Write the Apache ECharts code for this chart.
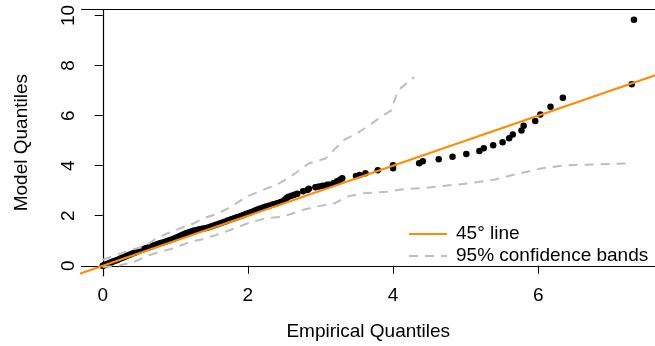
<!DOCTYPE html>
<html>
<head>
<meta charset="utf-8">
<script src="https://cdn.jsdelivr.net/npm/echarts@6/dist/echarts.min.js"></script>
<style>
html, body { margin: 0; padding: 0; background: #fff; }
#chart { width: 655px; height: 346px; }
</style>
</head>
<body>
<div id="chart"></div>
<script>
// empirical (x) vs model (y) quantiles
var empQ = [0.00, 0.02, 0.04, 0.06, 0.08, 0.10, 0.12, 0.14, 0.17, 0.20, 0.23, 0.26, 0.29, 0.32, 0.35, 0.38, 0.41, 0.44, 0.47, 0.50,
	0.53, 0.56, 0.59, 0.62, 0.65, 0.68, 0.71, 0.74, 0.77, 0.80, 0.83, 0.86, 0.89, 0.92, 0.95, 0.98,
	1.01, 1.04, 1.07, 1.10, 1.13, 1.16, 1.19, 1.22, 1.25, 1.28, 1.31, 1.34, 1.37, 1.41, 1.45, 1.49,
	1.53, 1.57, 1.61, 1.65, 1.69, 1.73, 1.77, 1.81, 1.85, 1.89, 1.93, 1.97,
	2.01, 2.05, 2.09, 2.13, 2.17, 2.21, 2.25, 2.30, 2.35, 2.40, 2.45,
	2.50, 2.53, 2.56, 2.60, 2.64, 2.68, 2.76, 2.82, 2.84, 2.93, 2.98, 3.03, 3.09,
	3.12, 3.18, 3.23, 3.27, 3.30, 3.49, 3.54, 3.62, 3.79, 4.00, 4.00, 4.36, 4.41,
	4.63, 4.82, 5.01, 5.19, 5.25, 5.38, 5.51, 5.60, 5.65, 5.77, 5.80, 5.96, 6.03, 6.17, 6.34, 7.29, 7.32];
var modQ = [0.00, 0.02, 0.05, 0.07, 0.09, 0.12, 0.14, 0.17, 0.20, 0.23, 0.27, 0.31, 0.34, 0.38, 0.42, 0.45, 0.49, 0.52, 0.56, 0.60,
	0.63, 0.66, 0.70, 0.72, 0.75, 0.79, 0.82, 0.85, 0.88, 0.91, 0.93, 0.96, 0.99, 1.02, 1.05, 1.08,
	1.12, 1.16, 1.20, 1.24, 1.28, 1.31, 1.34, 1.37, 1.40, 1.42, 1.44, 1.46, 1.48, 1.50, 1.53, 1.57,
	1.61, 1.65, 1.69, 1.73, 1.77, 1.82, 1.86, 1.90, 1.94, 1.98, 2.02, 2.07,
	2.11, 2.15, 2.20, 2.25, 2.29, 2.33, 2.37, 2.41, 2.46, 2.50, 2.55,
	2.62, 2.70, 2.76, 2.80, 2.84, 2.88, 2.98, 3.03, 3.08, 3.14, 3.17, 3.20, 3.24,
	3.24, 3.30, 3.38, 3.44, 3.50, 3.59, 3.63, 3.70, 3.82, 3.90, 4.02, 4.10, 4.18,
	4.26, 4.36, 4.47, 4.59, 4.70, 4.82, 4.94, 5.10, 5.25, 5.41, 5.60, 5.79, 6.04, 6.35, 6.71, 7.25, 9.83];

// 95% confidence bands
var upperX = [0.00, 0.19, 0.39, 0.58, 0.71, 0.89, 1.07, 1.26, 1.39, 1.57, 1.76, 1.98, 2.21, 2.43, 2.62, 2.84, 3.07, 3.32, 3.50, 3.68, 3.80, 3.98, 4.02, 4.07, 4.29];
var upperY = [0.24, 0.44, 0.64, 0.77, 1.04, 1.30, 1.50, 1.70, 1.90, 2.07, 2.34, 2.76, 3.03, 3.29, 3.63, 4.09, 4.29, 5.02, 5.29, 5.62, 5.88, 6.22, 6.61, 7.01, 7.54];
var lowerX = [0.00, 0.24, 0.44, 0.64, 0.80, 0.98, 1.21, 1.35, 1.53, 1.76, 2.03, 2.25, 2.48, 2.75, 2.93, 3.20, 3.36, 3.59, 3.91, 4.14, 4.41, 4.82, 5.04, 5.41, 5.68, 6.04, 6.40, 6.86, 7.29];
var lowerY = [-0.05, 0.02, 0.17, 0.42, 0.57, 0.70, 0.97, 1.04, 1.20, 1.43, 1.73, 1.90, 1.96, 2.23, 2.36, 2.50, 2.76, 2.90, 2.96, 3.06, 3.10, 3.23, 3.29, 3.45, 3.65, 3.89, 4.02, 4.06, 4.09];

// 45 degree reference line, clipped to the plot box
var refLine = [-1, 9];

var xTicks = [0, 2, 4, 6];
var yTicks = [0, 2, 4, 6, 8, 10];

function pairs(xs, ys) {
	return xs.map(function(x, i) { return [x, ys[i]]; });
}

var font = 'Liberation Sans, Arial, Helvetica, sans-serif';
var boxLine = { show: true, lineStyle: { color: '#000', width: 1.2 } };
var myChart = echarts.init(document.getElementById('chart'));

var option = {
	animation: false,
	backgroundColor: '#fff',
	textStyle: { fontFamily: font },
	grid: { left: 81.5, top: 9.5, bottom: 70.2, right: -7 },
	legend: {
		data: ['45° line', '95% confidence bands'],
		orient: 'vertical',
		left: 403, top: 219,
		itemWidth: 38, itemHeight: 14, itemGap: 2,
		itemStyle: { opacity: 0 },
		textStyle: { fontSize: 19, color: '#000', fontFamily: font, lineHeight: 20, padding: [0, 0, 0, 4] }
	},
	xAxis: [{
		type: 'value',
		min: -0.293, max: 7.61,
		name: 'Empirical Quantiles',
		nameLocation: 'middle',
		nameGap: 46,
		nameTextStyle: { fontSize: 19, color: '#000', fontFamily: font },
		axisLine: boxLine,
		splitLine: { show: false },
		axisTick: { show: true, customValues: xTicks, length: 8, lineStyle: { color: '#000' } },
		axisLabel: { customValues: xTicks, fontSize: 19, color: '#000', margin: 10, fontFamily: font }
	}, {
		// top edge of the box
		type: 'value',
		position: 'top',
		min: -0.293, max: 7.61,
		axisLine: boxLine,
		axisTick: { show: false },
		axisLabel: { show: false },
		splitLine: { show: false }
	}],
	yAxis: {
		type: 'value',
		min: -0.4, max: 10.24,
		name: 'Model Quantiles',
		nameLocation: 'middle',
		nameRotate: 90,
		nameGap: 50,
		nameTextStyle: { fontSize: 19, color: '#000', fontFamily: font },
		axisLine: boxLine,
		splitLine: { show: false },
		axisTick: { show: true, customValues: yTicks, length: 8, lineStyle: { color: '#000' } },
		axisLabel: { customValues: yTicks, rotate: 90, fontSize: 19, color: '#000', margin: 3, fontFamily: font }
	},
	series: [
		{
			name: 'points',
			type: 'scatter',
			data: pairs(empQ, modQ),
			symbolSize: 6.5,
			itemStyle: { color: '#000', opacity: 1 },
			z: 2
		},
		{
			name: '45° line',
			type: 'line',
			data: pairs(refLine, refLine),
			showSymbol: false,
			symbol: 'none',
			clip: true,
			itemStyle: { color: '#ff8c00' },
			lineStyle: { color: '#ff8c00', width: 2 },
			z: 4
		},
		{
			name: '95% confidence bands',
			type: 'line',
			data: pairs(upperX, upperY),
			symbol: 'none',
			itemStyle: { color: '#bebebe' },
			lineStyle: { color: '#bebebe', width: 2, type: [9, 7] },
			z: 3
		},
		{
			name: '95% confidence bands',
			type: 'line',
			data: pairs(lowerX, lowerY),
			symbol: 'none',
			itemStyle: { color: '#bebebe' },
			lineStyle: { color: '#bebebe', width: 2, type: [9, 7] },
			z: 3
		}
	]
};

myChart.setOption(option);
</script>
</body>
</html>
